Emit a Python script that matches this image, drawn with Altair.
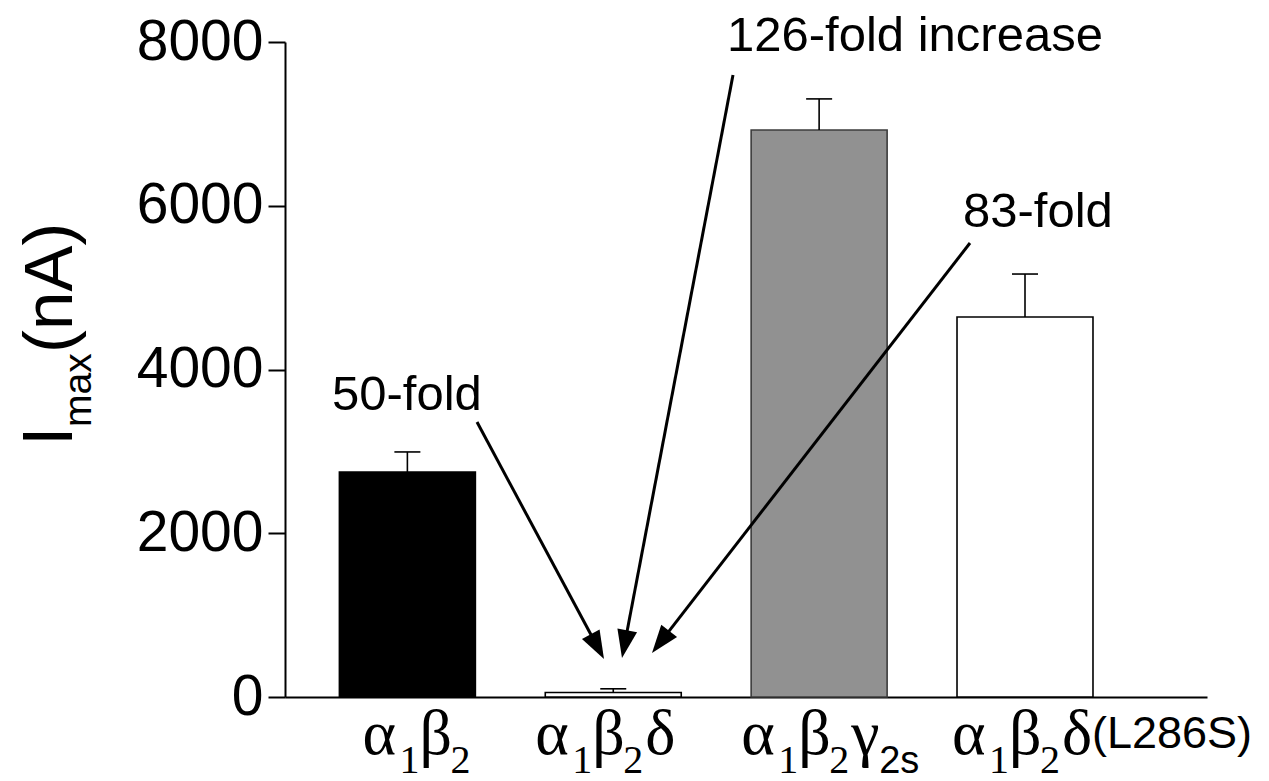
import math
import altair as alt
import pandas as pd

# ---------------- data ----------------
categories = ["a1b2", "a1b2d", "a1b2g2s", "a1b2dL286S"]
imax = [2748, 55, 6925, 4641]          # nA
sem = [245, 45, 380, 525]              # upward error
fills = ["#000000", "#ffffff", "#919191", "#ffffff"]
strokes = ["#000000", "#000000", "#3c3c3c", "#000000"]
y_ticks = [0, 2000, 4000, 6000, 8000]

# label pieces: (text, kind)  g = greek, s = serif subscript, ss = sans subscript, sa = sans suffix
label_parts = [
    [("α", "g"), ("1", "s"), ("β", "g"), ("2", "s")],
    [("α", "g"), ("1", "s"), ("β", "g"), ("2", "s"), ("δ", "g")],
    [("α", "g"), ("1", "s"), ("β", "g"), ("2", "s"), ("γ", "g"), ("2s", "ss")],
    [("α", "g"), ("1", "s"), ("β", "g"), ("2", "s"), ("δ", "g"), ("(L286S)", "sa")],
]
annotations = ["50-fold", "126-fold increase", "83-fold"]

df = pd.DataFrame({"construct": categories, "imax": imax, "sem": sem,
                   "fill": fills, "stroke": strokes})
df["top"] = df["imax"] + df["sem"]

# ---------------- layout ----------------
W, H = 922, 655
xscale = alt.Scale(domain=categories, paddingInner=0.3395, paddingOuter=0.409, align=0.323)
yscale = alt.Scale(domain=[0, 8000], nice=False, zero=True)

X = lambda: alt.X("construct:N", scale=xscale, sort=categories,
                  axis=alt.Axis(labels=False, ticks=False, title=None,
                                domainColor="black", domainWidth=2))
yaxis = alt.Axis(values=y_ticks, format="d", title=None, grid=False,
                 labelFont="Liberation Sans", labelFontSize=57, labelColor="black",
                 labelPadding=5, tickSize=17, tickWidth=2, tickColor="black",
                 domainColor="black", domainWidth=2)

base = alt.Chart(df)
bars = base.mark_bar(strokeWidth=1.6).encode(
    x=X(),
    y=alt.Y("imax:Q", scale=yscale, axis=yaxis),
    fill=alt.Fill("fill:N", scale=None),
    stroke=alt.Stroke("stroke:N", scale=None),
)
stems = base.mark_rule(color="black", strokeWidth=1.6).encode(
    x=X(), y=alt.Y("imax:Q", scale=yscale), y2="top:Q")
caps = base.mark_tick(color="black", thickness=1.6, size=26, opacity=1).encode(
    x=X(), y=alt.Y("top:Q", scale=yscale))

layers = [bars, stems, caps]

# ---------------- x labels (rich text pieces) ----------------
start_dx = [-45, -78, -78, -73]
piece_off = [0, 37, 57, 88, 110, 140]
styles = {
    "g": dict(font="Liberation Serif", fontSize=64, y=712),
    "s": dict(font="Liberation Serif", fontSize=40, y=731),
    "ss": dict(font="Liberation Sans", fontSize=38, y=731),
    "sa": dict(font="Liberation Sans", fontSize=45, y=706),
}
for i, cat in enumerate(categories):
    for j, (txt, kind) in enumerate(label_parts[i]):
        st = styles[kind]
        off = piece_off[j]
        if kind == "ss":
            off -= 2
        layers.append(
            alt.Chart(df).transform_filter(alt.datum.construct == cat)
            .mark_text(align="left", baseline="alphabetic", font=st["font"],
                       fontSize=st["fontSize"], color="black",
                       dx=start_dx[i] + off)
            .encode(x=X(), y=alt.value(st["y"]), text=alt.value(txt))
        )

one = alt.Data(values=[{"k": 1}])

# ---------------- y title: I_max(nA) ----------------
ytitle = [("I", 70, -213, 404), ("max", 39, -194, 385), ("(nA)", 69, -213, 311)]
for txt, fs, px, py in ytitle:
    layers.append(
        alt.Chart(one).mark_text(align="left", baseline="alphabetic", angle=270,
                                 font="Liberation Sans", fontSize=fs, color="black")
        .encode(x=alt.value(px), y=alt.value(py), text=alt.value(txt))
    )

# ---------------- annotations ----------------
ann_pos = [(47, 368), (442, 9), (678, 185)]
for txt, (px, py) in zip(annotations, ann_pos):
    layers.append(
        alt.Chart(one).mark_text(align="left", baseline="alphabetic",
                                 font="Liberation Sans", fontSize=49, color="black")
        .encode(x=alt.value(px), y=alt.value(py), text=alt.value(txt))
    )

arrows = [((192, 380), (319, 617)), ((448, 33), (337, 616)), ((685, 201), (367, 611))]
head_len, head_half = 28, 10
head_path = f"M0,0 L{-head_half/head_len:.3f},1 L{head_half/head_len:.3f},1 Z"
for (x0, y0), (x1, y1) in arrows:
    dx, dy = x1 - x0, y1 - y0
    L = math.hypot(dx, dy)
    ux, uy = dx / L, dy / L
    ex, ey = x1 - ux * head_len * 0.8, y1 - uy * head_len * 0.8
    ang = math.degrees(math.atan2(dx, -dy)) % 360
    layers.append(
        alt.Chart(one).mark_rule(color="black", strokeWidth=3)
        .encode(x=alt.value(x0), y=alt.value(y0), x2=alt.value(ex), y2=alt.value(ey))
    )
    layers.append(
        alt.Chart(one).mark_point(shape=head_path, filled=True, size=(2 * head_len) ** 2,
                                  angle=ang, color="black", opacity=1, strokeWidth=0)
        .encode(x=alt.value(x1), y=alt.value(y1))
    )

chart = alt.layer(*layers).properties(
    width=W, height=H,
    autosize=alt.AutoSizeParams(type="none"),
    padding={"left": 277, "top": 34, "right": 54, "bottom": 84},
    background="white",
).configure_view(stroke=None)

chart.save("out.html", embed_options={"renderer": "svg", "actions": False})
